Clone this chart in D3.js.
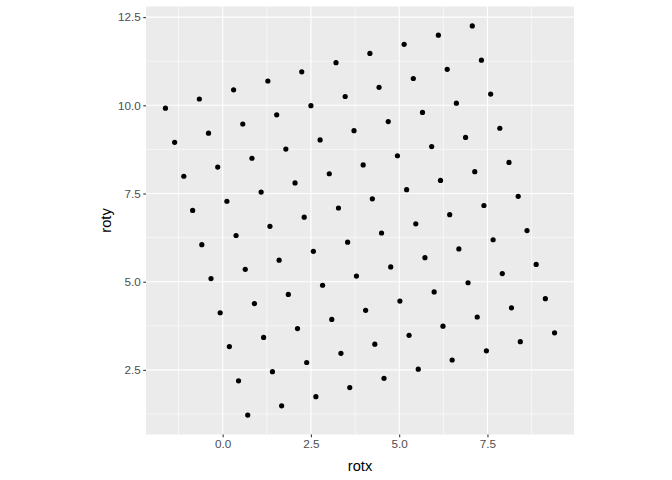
<!DOCTYPE html>
<html>
<head>
<meta charset="utf-8">
<script src="https://cdn.jsdelivr.net/npm/d3@7"></script>
<style>
html, body { margin: 0; padding: 0; background: #fff; }
svg { display: block; font-family: "Liberation Sans", Arial, sans-serif; }
</style>
</head>
<body>
<svg id="chart" width="672" height="480"></svg>
<script>
// Data values (rotx, roty)
const rotx = [
  0.71, 0.45, 0.19, -0.07, -0.33, -0.59, -0.85, -1.10, -1.36, -1.62,
  1.67, 1.41, 1.16, 0.90, 0.64, 0.38, 0.12, -0.14, -0.40, -0.66,
  2.64, 2.38, 2.12, 1.86, 1.60, 1.34, 1.09, 0.83, 0.57, 0.31,
  3.60, 3.35, 3.09, 2.83, 2.57, 2.31, 2.05, 1.79, 1.53, 1.28,
  4.57, 4.31, 4.05, 3.79, 3.54, 3.28, 3.02, 2.76, 2.50, 2.24,
  5.54, 5.28, 5.02, 4.76, 4.50, 4.24, 3.98, 3.72, 3.47, 3.21,
  6.50, 6.24, 5.99, 5.73, 5.47, 5.21, 4.95, 4.69, 4.43, 4.17,
  7.47, 7.21, 6.95, 6.69, 6.43, 6.17, 5.92, 5.66, 5.40, 5.14,
  8.43, 8.18, 7.92, 7.66, 7.40, 7.14, 6.88, 6.62, 6.36, 6.11,
  9.40, 9.14, 8.88, 8.62, 8.37, 8.11, 7.85, 7.59, 7.33, 7.07
];
const roty = [
  1.22, 2.19, 3.16, 4.12, 5.09, 6.05, 7.02, 7.99, 8.95, 9.92,
  1.48, 2.45, 3.42, 4.38, 5.35, 6.31, 7.28, 8.25, 9.21, 10.18,
  1.74, 2.71, 3.67, 4.64, 5.61, 6.57, 7.54, 8.50, 9.47, 10.44,
  2.00, 2.97, 3.93, 4.90, 5.86, 6.83, 7.80, 8.76, 9.73, 10.69,
  2.26, 3.23, 4.19, 5.16, 6.12, 7.09, 8.06, 9.02, 9.99, 10.95,
  2.52, 3.48, 4.45, 5.42, 6.38, 7.35, 8.31, 9.28, 10.25, 11.21,
  2.78, 3.74, 4.71, 5.68, 6.64, 7.61, 8.57, 9.54, 10.51, 11.47,
  3.04, 4.00, 4.97, 5.93, 6.90, 7.87, 8.83, 9.80, 10.76, 11.73,
  3.30, 4.26, 5.23, 6.19, 7.16, 8.12, 9.09, 10.06, 11.02, 11.99,
  3.55, 4.52, 5.49, 6.45, 7.42, 8.38, 9.35, 10.32, 11.28, 12.25
];
const xTicks = [0, 2.5, 5, 7.5];
const yTicks = [2.5, 5, 7.5, 10, 12.5];
const xMinor = [-1.25, 1.25, 3.75, 6.25, 8.75];
const yMinor = [1.25, 3.75, 6.25, 8.75, 11.25];

const points = rotx.map((v, i) => ({ x: v, y: roty[i] }));

const panel = { left: 146, top: 6.5, width: 428, height: 428 };

function expand(ext) {
  const pad = (ext[1] - ext[0]) * 0.05;
  return [ext[0] - pad, ext[1] + pad];
}
const xDom = expand(d3.extent(rotx));
const yDom = expand(d3.extent(roty));

const x = d3.scaleLinear().domain(xDom).range([panel.left, panel.left + panel.width]);
const y = d3.scaleLinear().domain(yDom).range([panel.top + panel.height, panel.top]);

const svg = d3.select("#chart");

svg.append("rect")
  .attr("x", panel.left).attr("y", panel.top)
  .attr("width", panel.width).attr("height", panel.height)
  .attr("fill", "#EBEBEB");

const grid = svg.append("g");
grid.selectAll(".xminor").data(xMinor).join("line")
  .attr("x1", d => x(d)).attr("x2", d => x(d))
  .attr("y1", panel.top).attr("y2", panel.top + panel.height)
  .attr("stroke", "#fff").attr("stroke-width", 0.55);
grid.selectAll(".yminor").data(yMinor).join("line")
  .attr("y1", d => y(d)).attr("y2", d => y(d))
  .attr("x1", panel.left).attr("x2", panel.left + panel.width)
  .attr("stroke", "#fff").attr("stroke-width", 0.55);
grid.selectAll(".xmajor").data(xTicks).join("line")
  .attr("x1", d => x(d)).attr("x2", d => x(d))
  .attr("y1", panel.top).attr("y2", panel.top + panel.height)
  .attr("stroke", "#fff").attr("stroke-width", 1.1);
grid.selectAll(".ymajor").data(yTicks).join("line")
  .attr("y1", d => y(d)).attr("y2", d => y(d))
  .attr("x1", panel.left).attr("x2", panel.left + panel.width)
  .attr("stroke", "#fff").attr("stroke-width", 1.1);

svg.append("g").selectAll("circle").data(points).join("circle")
  .attr("cx", d => x(d.x)).attr("cy", d => y(d.y))
  .attr("r", 2.6).attr("fill", "#000");

// Axes
const xAxis = svg.append("g")
  .attr("transform", `translate(0,${panel.top + panel.height})`)
  .call(d3.axisBottom(x).tickValues(xTicks).tickFormat(d3.format(".1f")).tickSizeInner(2.75).tickSizeOuter(0).tickPadding(2.5));
const yAxis = svg.append("g")
  .attr("transform", `translate(${panel.left},0)`)
  .call(d3.axisLeft(y).tickValues(yTicks).tickFormat(d3.format(".1f")).tickSizeInner(2.75).tickSizeOuter(0).tickPadding(2.5));

[xAxis, yAxis].forEach(a => {
  a.select(".domain").remove();
  a.selectAll(".tick line").attr("stroke", "#333333").attr("stroke-width", 1.1);
  a.selectAll(".tick text").attr("fill", "#4D4D4D").attr("font-size", "11.7px")
    .attr("font-family", "'Liberation Sans', Arial, sans-serif");
});
xAxis.selectAll(".tick text").attr("dy", "0.71em").attr("y", 5.5);

svg.append("text")
  .attr("x", panel.left + panel.width / 2).attr("y", 471)
  .attr("text-anchor", "middle").attr("font-size", "14.7px").attr("fill", "#000")
  .text("rotx");
svg.append("text")
  .attr("transform", `translate(111,${panel.top + panel.height / 2}) rotate(-90)`)
  .attr("text-anchor", "middle").attr("font-size", "14.7px").attr("fill", "#000")
  .text("roty");
</script>
</body>
</html>
